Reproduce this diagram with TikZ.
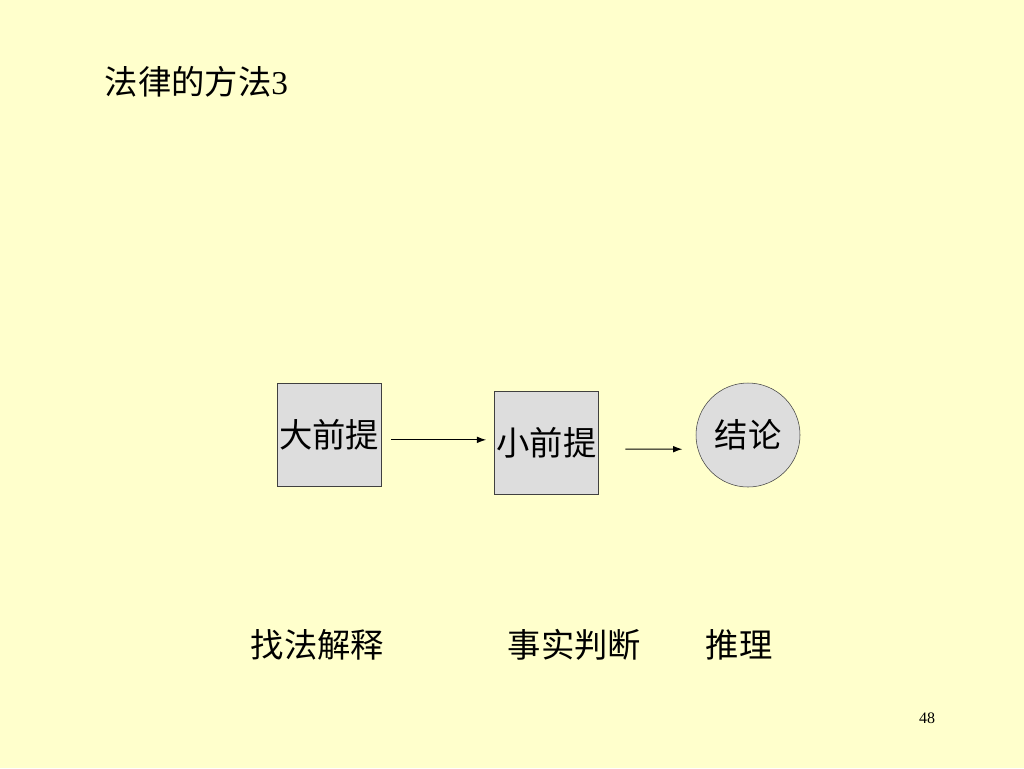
\documentclass[tikz,border=0pt]{standalone}
\usepackage{fontspec}
\setmainfont{Liberation Serif}
\newfontfamily\cjk{Noto Sans CJK SC}
\usetikzlibrary{positioning,calc,arrows.meta}
\definecolor{slidebg}{HTML}{FFFFCC}
\definecolor{boxfill}{HTML}{DDDDDD}
\definecolor{boxline}{HTML}{404040}

\begin{document}
\begin{tikzpicture}[x=0.75pt, y=-0.75pt, font=\cjk\fontsize{25}{30}\selectfont,
    premise/.style={draw=boxline, fill=boxfill, minimum width=78pt, minimum height=77pt, inner sep=0pt},
    concl/.style={circle, draw=boxline, fill=boxfill, minimum size=78pt, inner sep=0pt},
    arr/.style={-{Latex[length=7pt,width=5pt]}, line width=0.8pt}]
    % slide
    \fill[slidebg] (0,0) rectangle (1024,768);
    \useasboundingbox (0,0) rectangle (1024,768);
    \node[anchor=west] (title) at (100,82) {法律的方法{\rmfamily 3}};

    % syllogism
    \node[premise] (major) at (329,434.5) {大前提};
    \node[premise] (minor) at (546.5,442.5) {小前提};
    \node[concl] (concl) at (748,435) {结论};
    \draw[arr, shorten <=7.5pt, shorten >=6pt] ([yshift=-4pt]major.east) -- ([yshift=2pt]minor.west);
    \draw[arr, shorten <=20pt, shorten >=10pt] ([yshift=-5pt]minor.east) -- ([yshift=-10.65pt]concl.west);

    % steps
    \node[anchor=west] (find) at (246,645) {找法解释};
    \node[anchor=west] (fact) at (503,645) {事实判断};
    \node[anchor=west] (infer) at (701,645) {推理};

    \node[font=\rmfamily\fontsize{12}{14}\selectfont] (page) at (927,718) {48};
\end{tikzpicture}
\end{document}
